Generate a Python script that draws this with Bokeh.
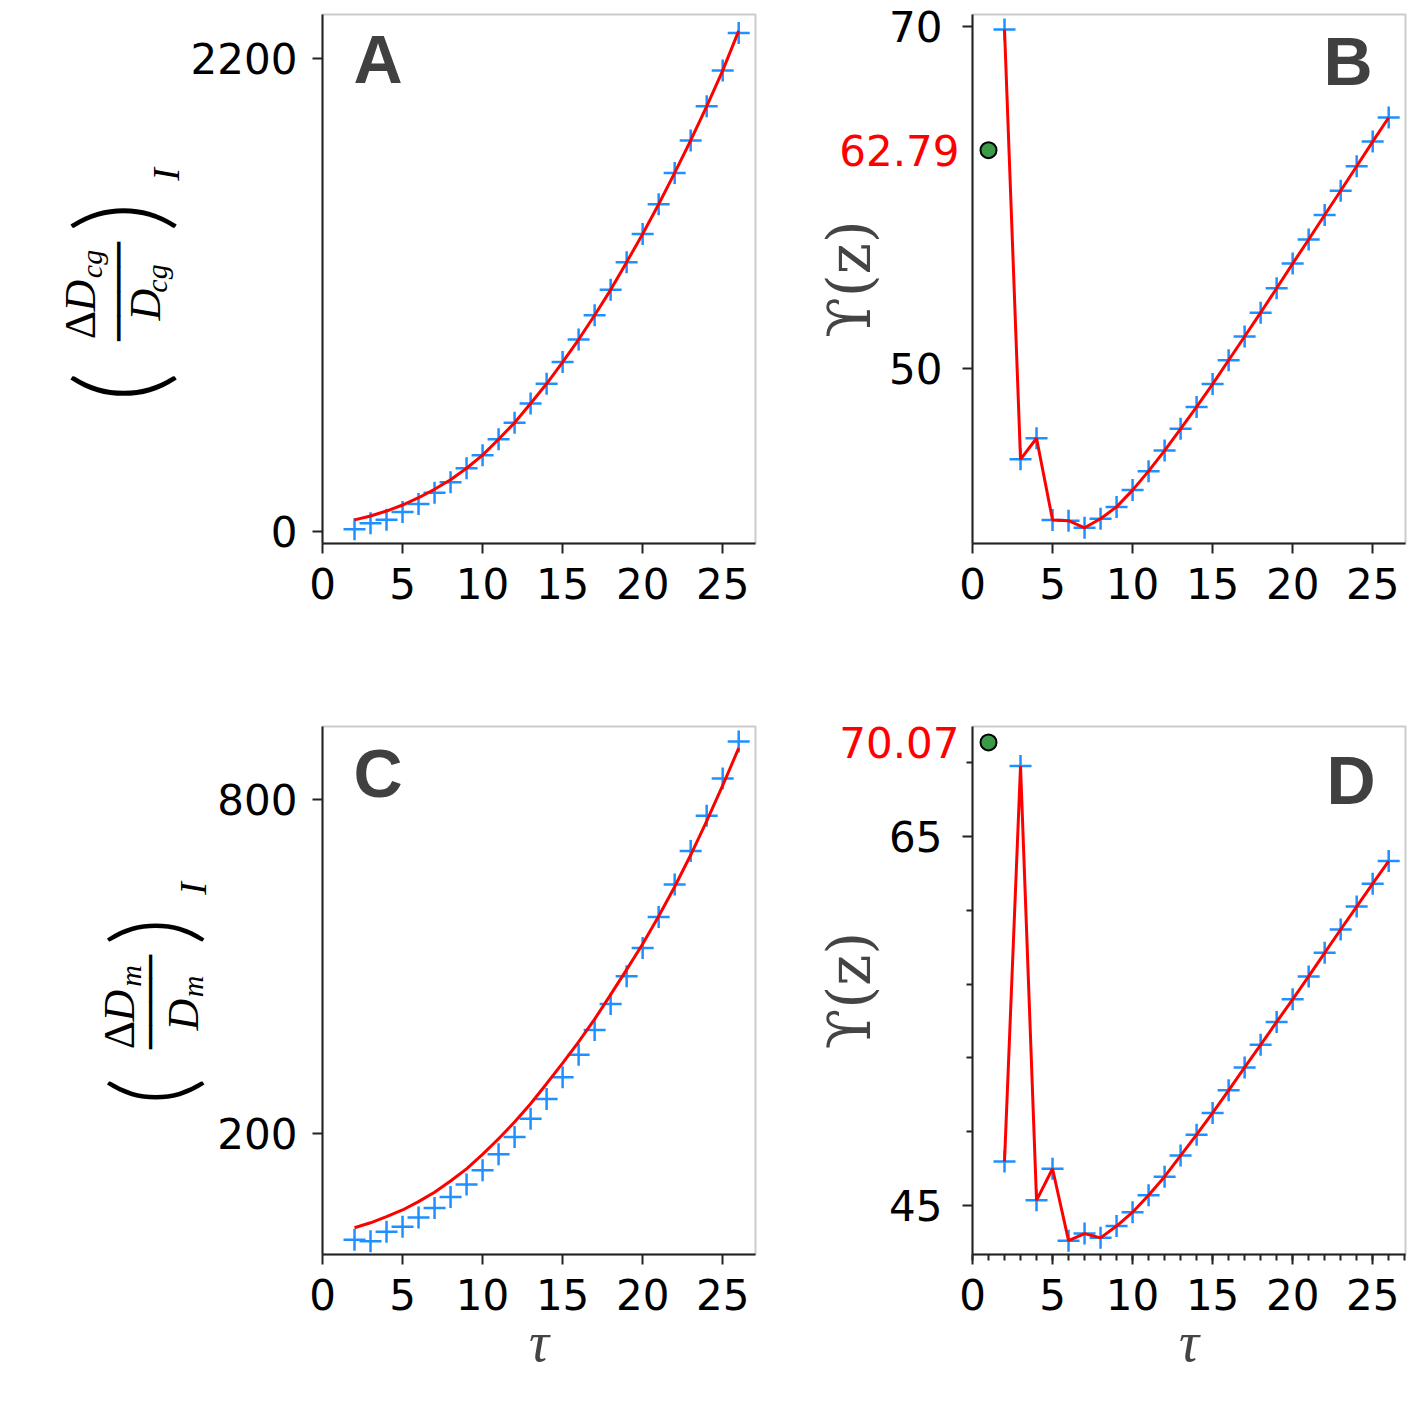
import math
from bokeh.plotting import figure
from bokeh.layouts import column, row
from bokeh.models import Range1d, FixedTicker, SingleIntervalTicker, Label, LinearAxis
from bokeh.core.properties import value
from bokeh.embed import file_html
from bokeh.resources import INLINE

# ---------------- data ----------------
tau = [2, 3, 4, 5, 6, 7, 8, 9, 10, 11, 12, 13, 14, 15, 16, 17, 18, 19, 20, 21, 22, 23, 24, 25, 26]

a_obs = [11, 39, 55, 92, 129, 181, 230, 295, 356, 430, 507, 596, 688, 789, 894, 1007,
         1125, 1254, 1385, 1523, 1669, 1820, 1979, 2145, 2320]
a_fit = [55, 73, 96, 124, 158, 197, 242, 295, 356, 430, 507, 596, 688, 789, 894, 1007,
         1125, 1254, 1385, 1523, 1669, 1820, 1979, 2145, 2330]

b_obs = [69.84, 44.72, 45.95, 41.18, 41.13, 40.72, 41.25, 41.94, 42.92, 44.03, 45.23, 46.50,
         47.78, 49.12, 50.51, 51.90, 53.29, 54.72, 56.16, 57.57, 59.00, 60.42, 61.85, 63.29, 64.70]

c_obs = [9.5, 6.6, 23.7, 33, 49.3, 66.4, 86.3, 109, 134.6, 163, 194.3, 227, 262.6, 301.7,
         342.2, 386.3, 433.2, 483, 534, 589.6, 647.9, 708.3, 771.5, 838.4, 905.2]
c_fit = [31, 40, 51, 63, 78, 95, 115, 137, 163, 191, 221, 254, 290, 327, 365, 406, 450, 495,
         541, 591, 644, 701, 762, 826, 893]

d_obs = [47.40, 68.79, 45.30, 47.01, 43.12, 43.50, 43.27, 43.91, 44.66, 45.58, 46.58, 47.72,
         48.85, 50.03, 51.25, 52.49, 53.71, 54.95, 56.17, 57.41, 58.69, 59.95, 61.19, 62.43, 63.65]

best_tau = [1]
b_best = [62.79]
d_best = [70.07]

a_yticks = [0, 2200]
b_yticks = [50, 70]
c_yticks = [200, 800]
d_yticks = [45, 65]
d_yminor = [41, 49, 53, 57, 61, 69]

# ---------------- style ----------------
TICK_FONT = "DejaVu Sans"
TICK_SIZE = "42px"
AX = "#222222"
BLUE = "#1e90ff"
GREEN = "#3a9a48"
LETTER_FONT = "Liberation Sans"
MATH = "Liberation Serif"
PAREN = "Lato Light, Liberation Serif"


def base_fig(width, height, left, right, top, bottom, yr, yticks, yminor=None, xminor=False,
             ystandoff=20):
    p = figure(width=width, height=height, x_range=Range1d(0, 27.05), y_range=Range1d(*yr),
               output_backend="svg", toolbar_location=None,
               min_border_left=left, min_border_right=right,
               min_border_top=top, min_border_bottom=bottom)
    p.xgrid.visible = False
    p.ygrid.visible = False
    p.outline_line_color = "#cccccc"
    p.outline_line_width = 2
    p.background_fill_color = "white"
    p.border_fill_color = "white"
    p.xaxis.ticker = SingleIntervalTicker(interval=5, num_minor_ticks=5 if xminor else 0)
    p.yaxis.ticker = FixedTicker(ticks=yticks, minor_ticks=yminor or [])
    for ax in (p.xaxis[0], p.yaxis[0]):
        ax.axis_line_color = AX
        ax.axis_line_width = 2
        ax.major_tick_line_color = AX
        ax.major_tick_line_width = 2
        ax.major_tick_out = 10
        ax.major_tick_in = 0
        ax.minor_tick_line_color = AX
        ax.minor_tick_line_width = 2
        ax.minor_tick_out = 6
        ax.minor_tick_in = 0
        ax.major_label_text_font = TICK_FONT
        ax.major_label_text_font_size = TICK_SIZE
        ax.major_label_text_color = "black"
    p.xaxis.major_label_standoff = 14
    p.yaxis.major_label_standoff = ystandoff
    if not xminor:
        p.xaxis.minor_tick_line_color = None
    if not yminor:
        p.yaxis.minor_tick_line_color = None
    return p


def label_fig(width, height, top, bottom, frame_top, frame_bottom):
    # text holder whose data coordinates equal page pixels
    f = figure(width=width, height=height, x_range=Range1d(0, width),
               y_range=Range1d(frame_bottom, frame_top),
               output_backend="svg", toolbar_location=None,
               x_axis_location=None, y_axis_location=None,
               min_border_left=0, min_border_right=0,
               min_border_top=top, min_border_bottom=bottom)
    f.xgrid.visible = False
    f.ygrid.visible = False
    f.outline_line_color = None
    f.background_fill_color = "white"
    f.border_fill_color = "white"
    return f


def rtext(f, xs, ys, texts, size, font=MATH, style="normal"):
    f.text(x=xs, y=ys, text=texts, angle=math.pi / 2, text_font=value(font),
           text_font_size=value(size), text_font_style=style, text_color="black",
           text_align="center", text_baseline="middle")


def letter(p, txt, sx, sy):
    p.add_layout(Label(x=sx, y=sy, x_units="screen", y_units="screen", text=txt,
                       text_font=LETTER_FONT, text_font_style="bold", text_font_size="68px",
                       text_color="#404040", text_align="left", text_baseline="middle"))


def red_axis(p, val, standoff):
    ax = LinearAxis(ticker=FixedTicker(ticks=[val], minor_ticks=[]))
    ax.axis_line_color = None
    ax.major_tick_line_color = None
    ax.minor_tick_line_color = None
    ax.major_tick_out = 0
    ax.major_tick_in = 0
    ax.major_label_standoff = standoff
    ax.major_label_text_font = TICK_FONT
    ax.major_label_text_font_size = TICK_SIZE
    ax.major_label_text_color = "red"
    ax.axis_label = " "
    ax.axis_label_standoff = 40
    ax.axis_label_text_font_size = "10px"
    p.add_layout(ax, "left")


def tau_label(p):
    p.xaxis.axis_label = "τ"
    p.xaxis.axis_label_text_font = MATH
    p.xaxis.axis_label_text_font_style = "italic"
    p.xaxis.axis_label_text_font_size = "56px"
    p.xaxis.axis_label_standoff = -2


def ups_label(p):
    p.yaxis.axis_label = "ϒ(z)"
    p.yaxis.axis_label_text_font = "DejaVu Serif"
    p.yaxis.axis_label_text_font_style = "normal"
    p.yaxis.axis_label_text_font_size = "59px"
    p.yaxis.axis_label_standoff = 2


# ---------------- row 1 ----------------
H1 = 700
la = label_fig(187, H1, 14, 157, 14, 543)
rtext(la, [115, 115], [216.5, 386.5], [")", "("], "118px", font=PAREN)
rtext(la, [80], [324.5], ["Δ"], "44px")
rtext(la, [80, 145], [295, 304], ["D", "D"], "44px", style="italic")
rtext(la, [91, 156], [263.5, 278], ["cg", "cg"], "30px", style="italic")
rtext(la, [118], [291], ["────"], "41px", font="DejaVu Sans Mono")
rtext(la, [165], [174], ["I"], "38px", style="italic")

pa = base_fig(578, H1, 135, 10, 14, 157, (-55, 2406), a_yticks, ystandoff=15)
pa.scatter(tau, a_obs, marker="cross", size=22, line_color=BLUE, line_width=2.5)
pa.line(tau, a_fit, line_color="red", line_width=3)
letter(pa, "A", 31, 485)

pb = base_fig(650, H1, 207, 10, 14, 157, (39.8, 70.72), b_yticks)
pb.scatter(tau, b_obs, marker="cross", size=22, line_color=BLUE, line_width=2.5)
pb.line(tau, b_obs, line_color="red", line_width=3)
pb.scatter(best_tau, b_best, marker="circle", size=16, fill_color=GREEN,
           line_color="black", line_width=2)
ups_label(pb)
red_axis(pb, b_best[0], -147)
letter(pb, "B", 351, 482.5)

# ---------------- row 2 ----------------
H2 = 720
lc = label_fig(213, H2, 26, 166, 726, 1254)
rtext(lc, [147, 147], [931, 1091], [")", "("], "109px", font=PAREN)
rtext(lc, [118.5], [1034.5], ["Δ"], "44px")
rtext(lc, [118.5, 183], [1005, 1014], ["D", "D"], "44px", style="italic")
rtext(lc, [129.5, 191.5], [975.5, 986], ["m", "m"], "30px", style="italic")
rtext(lc, [150], [1001.5], ["────"], "39px", font="DejaVu Sans Mono")
rtext(lc, [192], [888], ["I"], "38px", style="italic")

pc = base_fig(552, H2, 109, 10, 26, 166, (-17, 932), c_yticks, ystandoff=15)
pc.scatter(tau, c_obs, marker="cross", size=22, line_color=BLUE, line_width=2.5)
pc.line(tau, c_fit, line_color="red", line_width=3)
letter(pc, "C", 31, 481.5)
tau_label(pc)

pd_ = base_fig(650, H2, 207, 10, 26, 166, (42.37, 70.93), d_yticks, yminor=d_yminor, xminor=True)
pd_.scatter(tau, d_obs, marker="cross", size=22, line_color=BLUE, line_width=2.5)
pd_.line(tau, d_obs, line_color="red", line_width=3)
pd_.scatter(best_tau, d_best, marker="circle", size=16, fill_color=GREEN,
            line_color="black", line_width=2)
ups_label(pd_)
red_axis(pd_, d_best[0], -147)
tau_label(pd_)
letter(pd_, "D", 354, 474.5)

layout = column(row(la, pa, pb), row(lc, pc, pd_))
open("out.html", "w").write(file_html(layout, INLINE))
